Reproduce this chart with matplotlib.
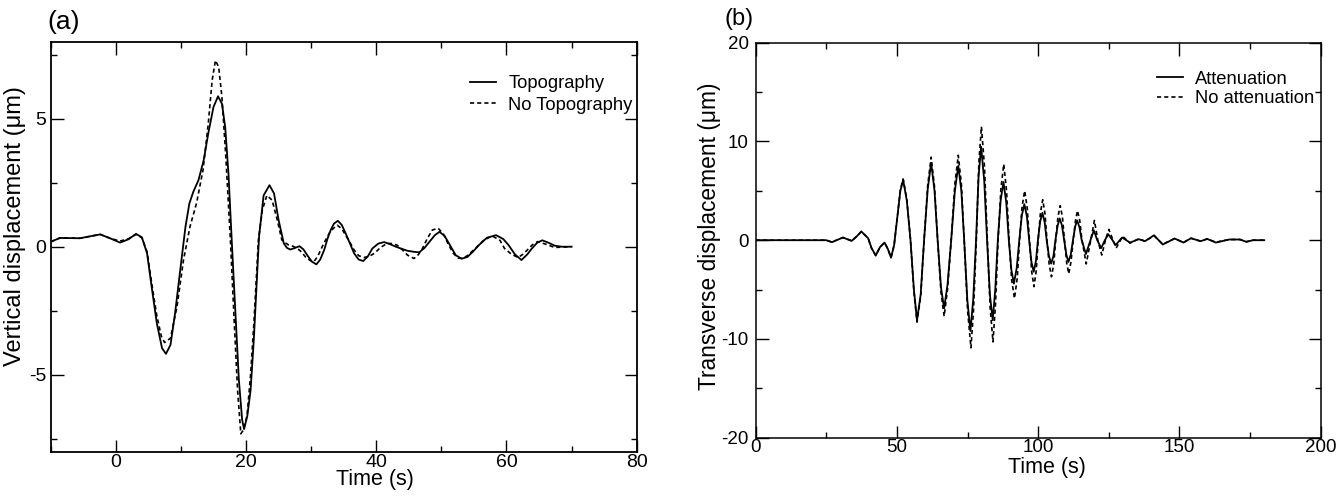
import matplotlib
matplotlib.use("Agg")
import matplotlib.pyplot as plt
from matplotlib.ticker import MultipleLocator

plt.rcParams['font.family'] = ['Liberation Sans', 'DejaVu Sans']

# (a) vertical displacement
t_topo = [-10, -8.6, -5.5, -2.4, -0.9, 0.66, 1.95, 3.1, 4.0, 4.8, 5.5, 6.3, 7.1, 7.7,
          8.4, 9.1, 9.9, 10.7, 11.3, 11.9, 12.7, 13.5, 14.2, 15.0, 15.7, 16.3, 16.8,
          17.3, 17.8, 18.4, 18.9, 19.4, 19.7, 20.2, 20.7, 21.2, 21.6, 22.0, 22.7, 23.6,
          24.3, 25.0, 25.8, 26.3, 26.8, 27.5, 28.2, 28.8, 29.4, 30.1, 30.8, 31.4, 32.0,
          32.5, 33.0, 33.5, 34.1, 34.7, 35.3, 36.0, 36.6, 37.3, 38.0, 38.7, 39.4, 40.3,
          41.2, 42.1, 43.0, 44.8, 45.8, 46.6, 47.4, 48.1, 49.0, 49.7, 50.5, 51.3, 52.2,
          53.1, 54.0, 54.9, 55.8, 57.0, 58.4, 59.5, 60.3, 61.3, 62.3, 63.2, 63.9, 64.7,
          65.5, 66.5, 67.4, 68.5, 70.0]
u_topo = [0.19, 0.34, 0.33, 0.48, 0.33, 0.16, 0.29, 0.50, 0.37, -0.26, -1.56, -2.99, -3.96, -4.18,
          -3.83, -2.6, -0.9, 0.78, 1.69, 2.14, 2.60, 3.38, 4.42, 5.45, 5.87, 5.58, 4.67,
          2.86, 0.26, -2.73, -5.2, -6.75, -7.12, -6.6, -5.6, -3.6, -1.6, 0.4, 2.0, 2.40,
          2.08, 1.04, 0.13, -0.05, -0.11, -0.05, 0.02, -0.1, -0.33, -0.58, -0.69, -0.5, -0.13,
          0.3, 0.65, 0.9, 1.01, 0.85, 0.52, 0.1, -0.26, -0.5, -0.56, -0.38, -0.07, 0.12,
          0.18, 0.1, 0.0, -0.16, -0.2, -0.22, -0.05, 0.17, 0.45, 0.58, 0.42, 0.07, -0.33,
          -0.47, -0.4, -0.18, 0.07, 0.35, 0.45, 0.3, 0.07, -0.3, -0.52, -0.3, -0.07, 0.15,
          0.25, 0.15, 0.04, 0.0, 0.0]

t_notopo = [-10, -8.6, -5.5, -2.4, -0.9, 0.66, 1.95, 3.1, 4.0, 4.8, 5.5, 6.3, 7.0, 7.5,
            8.4, 9.4, 10.4, 11.4, 12.4, 13.4, 14.2, 14.8, 15.3, 15.8, 16.3, 16.9, 17.6,
            18.2, 18.7, 19.2, 19.6, 20.15, 20.7, 21.2, 21.9, 22.5, 23.2, 24.0, 24.8, 25.5,
            26.5, 27.2, 27.9, 28.5, 29.1, 29.8, 30.4, 31.0, 31.7, 32.4, 33.0, 34.0, 34.7,
            35.3, 36.0, 36.6, 37.3, 38.1, 38.9, 39.7, 40.7, 41.7, 42.5, 43.2, 44.0, 44.8,
            45.8, 46.5, 47.1, 47.8, 48.6, 49.5, 50.3, 51.0, 51.8, 52.6, 53.3, 54.0, 55.2,
            56.5, 57.8, 59.0, 59.7, 60.8, 61.8, 62.5, 63.2, 64.0, 64.8, 66.0, 67.4, 70.0]
u_notopo = [0.19, 0.34, 0.33, 0.48, 0.33, 0.22, 0.31, 0.48, 0.35, -0.2, -1.4, -2.7, -3.5, -3.74,
            -3.57, -2.33, -0.51, 0.79, 1.7, 3.0, 4.8, 6.5, 7.27, 7.01, 5.84, 3.5, 0.26,
            -3.0, -5.6, -7.3, -7.15, -6.6, -5.0, -3.0, 0.26, 1.43, 2.0, 1.82, 1.04, 0.26,
            0.07, 0.02, -0.07, -0.2, -0.39, -0.53, -0.59, -0.38, 0.0, 0.35, 0.62, 0.84, 0.7,
            0.45, 0.15, -0.13, -0.35, -0.42, -0.38, -0.26, -0.02, 0.13, 0.12, 0.06, -0.12, -0.33,
            -0.46, -0.3, -0.07, 0.3, 0.65, 0.72, 0.5, 0.13, -0.25, -0.45, -0.45, -0.35, -0.07,
            0.25, 0.42, 0.25, -0.07, -0.3, -0.42, -0.3, -0.13, 0.08, 0.2, 0.1, -0.03, 0.0]

# (b) transverse displacement
t_att = [0, 10, 20, 25, 27, 29, 30.9, 34, 35.8, 37.4, 39.8, 41, 42.5, 44, 45.6, 46.8, 47.9,
         49, 50.2, 51.2, 52.2, 53.5, 54.8, 56, 57.1, 58.4, 59.6, 60.9, 62.1, 63.3, 64.4,
         65.6, 66.7, 67.9, 69.2, 70.5, 71.7, 72.8, 73.8, 74.9, 76, 77, 78, 78.9, 79.8,
         80.9, 81.9, 82.9, 83.9, 84.8, 85.7, 86.7, 87.7, 88.7, 89.6, 90.5, 91.4, 92.4,
         93.3, 94.2, 95.1, 96.0, 96.8, 97.6, 98.4, 99.2, 99.9, 100.7, 101.5, 102.3, 103,
         103.8, 104.6, 105.4, 106.1, 106.9, 107.6, 108.4, 109.2, 110.0, 110.7, 111.5,
         112.3, 113.1, 113.8, 114.6, 115.4, 116.9, 118.5, 119.7, 120.9, 122.3, 123.6,
         124.8, 126.3, 127.4, 129.7, 132.5, 135.6, 137.8, 141, 144.1, 148.3, 151.4, 154.1,
         157.5, 159.8, 162.9, 167.6, 171.4, 173.7, 176, 180]
u_att = [0, 0, 0, 0, -0.2, 0.05, 0.27, -0.07, 0.4, 0.88, 0.2, -0.8, -1.55, -0.7, -0.24, -0.9, -1.76,
         -0.5, 2.5, 5.0, 6.1, 4.0, 0.0, -5.0, -8.1, -5.5, 0.0, 5.2, 7.84, 5.0, 0.0,
         -4.8, -6.9, -4.5, 0.0, 5.0, 7.53, 5.0, 0.0, -6.0, -9.2, -6.0, 0.0, 6.5, 9.46,
         6.0, 0.0, -5.5, -8.1, -5.0, 0.0, 4.0, 5.9, 3.8, 0.0, -3.0, -4.4, -2.8,
         0.0, 2.5, 3.65, 2.4, 0.0, -2.2, -3.2, -2.1, 0.0, 1.9, 2.77, 1.8, 0.0,
         -1.6, -2.37, -1.6, 0.0, 1.5, 2.2, 1.5, 0.0, -1.5, -2.2, -1.5,
         0.0, 1.4, 2.0, 1.3, 0.0, -1.4, 0.0, 1.0, 0.0, -0.8, 0.0,
         0.6, 0.0, -0.5, 0.27, -0.24, 0.1, -0.1, 0.5, -0.44, 0.17, -0.24, 0.2,
         -0.1, 0.13, -0.24, 0.07, 0.07, -0.17, 0.0, 0.0]

t_noatt = [0, 10, 20, 25, 27, 29, 30.9, 34, 35.8, 37.4, 39.8, 41, 42.5, 44, 45.6, 46.8, 47.9,
           49, 50.2, 51.2, 52.2, 53.5, 54.8, 56, 57.1, 58.4, 59.6, 60.9, 62.1, 63.3, 64.4,
           65.6, 66.7, 67.9, 69.2, 70.5, 71.7, 72.8, 73.8, 75.0, 76.2, 77.1, 78.1, 79.0, 79.9,
           81.0, 82.0, 83.0, 84.0, 84.9, 85.8, 86.8, 87.8, 88.8, 89.7, 90.6, 91.6, 92.6,
           93.4, 94.3, 95.2, 96.1, 96.9, 97.7, 98.5, 99.3, 100.0, 100.8, 101.6, 102.4, 103.1,
           103.9, 104.7, 105.5, 106.2, 107.0, 107.8, 108.6, 109.3, 110.1, 110.8, 111.6,
           112.4, 113.2, 113.9, 114.7, 115.5, 117.0, 118.6, 119.9, 121.1, 122.5, 123.8,
           125.0, 126.5, 127.6, 129.9, 132.5, 135.6, 137.8, 141, 144.1, 148.3, 151.4, 154.1,
           157.5, 159.8, 162.9, 167.6, 171.4, 173.7, 176, 180]
u_noatt = [0, 0, 0, 0, -0.2, 0.05, 0.27, -0.07, 0.4, 0.88, 0.2, -0.8, -1.55, -0.7, -0.24, -0.9, -1.76,
           -0.5, 2.5, 5.1, 6.2, 4.1, 0.0, -5.2, -8.3, -5.7, 0.0, 5.6, 8.4, 5.4, 0.0,
           -5.3, -7.7, -5.0, 0.0, 5.7, 8.6, 5.7, 0.0, -7.1, -10.9, -7.1, 0.0, 7.9, 11.5,
           7.4, 0.0, -6.9, -10.3, -6.4, 0.0, 5.2, 7.7, 5.0, 0.0, -4.0, -5.9, -3.8,
           0.0, 3.4, 5.0, 3.3, 0.0, -3.2, -4.7, -3.1, 0.0, 2.8, 4.1, 2.7, 0.0,
           -2.5, -3.7, -2.4, 0.0, 2.4, 3.5, 2.3, 0.0, -2.3, -3.4, -2.2,
           0.0, 2.0, 3.0, 2.0, 0.0, -2.4, 0.0, 2.0, 0.0, -1.5, 0.0,
           1.1, 0.0, -0.8, 0.4, -0.3, 0.15, -0.1, 0.45, -0.4, 0.17, -0.24, 0.2,
           -0.1, 0.13, -0.2, 0.07, 0.07, -0.15, 0.0, 0.0]

W, H = 1343, 498
fig = plt.figure(figsize=(W / 100, H / 100), dpi=100)

def px_axes(l, r, t, b):
    return fig.add_axes([l / W, 1 - b / H, (r - l) / W, (b - t) / H])

def style(ax, lw, tsize):
    for s in ax.spines.values():
        s.set_linewidth(lw)
    ax.tick_params(which='both', direction='in', top=True, right=True, labelsize=tsize)
    ax.tick_params(which='major', length=9, width=1)
    ax.tick_params(which='minor', length=4.5, width=1)

# ---- panel (a)
ax1 = px_axes(50.7, 636.7, 41.7, 451.7)
ax1.plot(t_topo, u_topo, color='black', lw=1.3, label='Topography')
ax1.plot(t_notopo, u_notopo, color='black', lw=1.2, ls=(0, (2.5, 1.8)), label='No Topography')
ax1.set_xlim(-10, 80)
ax1.set_ylim(-8, 8)
ax1.xaxis.set_major_locator(MultipleLocator(20))
ax1.xaxis.set_minor_locator(MultipleLocator(10))
ax1.yaxis.set_major_locator(MultipleLocator(5))
ax1.yaxis.set_minor_locator(MultipleLocator(2.5))
ax1.set_yticks([-5, 0, 5])
ax1.set_yticklabels(['-5', '0', '5'])
style(ax1, 1.3, 14)
ax1.tick_params(axis='x', pad=2)
ax1.tick_params(axis='y', pad=3)
ax1.set_xlabel('Time (s)', fontsize=15.5)
ax1.xaxis.set_label_coords(0.553, -0.043)
ax1.set_ylabel('Vertical displacement (\u03bcm)', fontsize=17)
ax1.yaxis.set_label_coords(-0.042, 0.55)
ax1.legend(loc='center left', bbox_to_anchor=(0.7155, 0.871), frameon=False,
           fontsize=13.2, handlelength=1.4, handletextpad=0.7, labelspacing=0.25,
           borderpad=0, borderaxespad=0)
fig.text(47 / W, 1 - 22 / H, '(a)', fontsize=19, ha='left', va='center')

# ---- panel (b)
ax2 = px_axes(755.7, 1320.7, 42.7, 437.7)
ax2.plot(t_att, u_att, color='black', lw=1.3, label='Attenuation')
ax2.plot(t_noatt, u_noatt, color='black', lw=1.2, ls=(0, (2.5, 1.8)), label='No attenuation')
ax2.set_xlim(0, 200)
ax2.set_ylim(-20, 20)
ax2.xaxis.set_major_locator(MultipleLocator(50))
ax2.xaxis.set_minor_locator(MultipleLocator(25))
ax2.yaxis.set_major_locator(MultipleLocator(10))
ax2.yaxis.set_minor_locator(MultipleLocator(5))
ax2.set_yticks([-20, -10, 0, 10, 20])
ax2.set_yticklabels(['-20', '-10', '0', '10', '20'])
style(ax2, 1.1, 13.5)
ax2.tick_params(axis='x', pad=1)
ax2.tick_params(axis='y', pad=5)
ax2.set_xlabel('Time (s)', fontsize=15.5)
ax2.xaxis.set_label_coords(0.516, -0.05)
ax2.set_ylabel('Transverse displacement (\u03bcm)', fontsize=16.4)
ax2.yaxis.set_label_coords(-0.062, 0.51)
ax2.legend(loc='center left', bbox_to_anchor=(0.710, 0.883), frameon=False,
           fontsize=13.2, handlelength=1.4, handletextpad=0.7, labelspacing=0.15,
           borderpad=0, borderaxespad=0)
fig.text(725 / W, 1 - 19.5 / H, '(b)', fontsize=17, ha='left', va='center')

fig.savefig('out.png', dpi=100)
